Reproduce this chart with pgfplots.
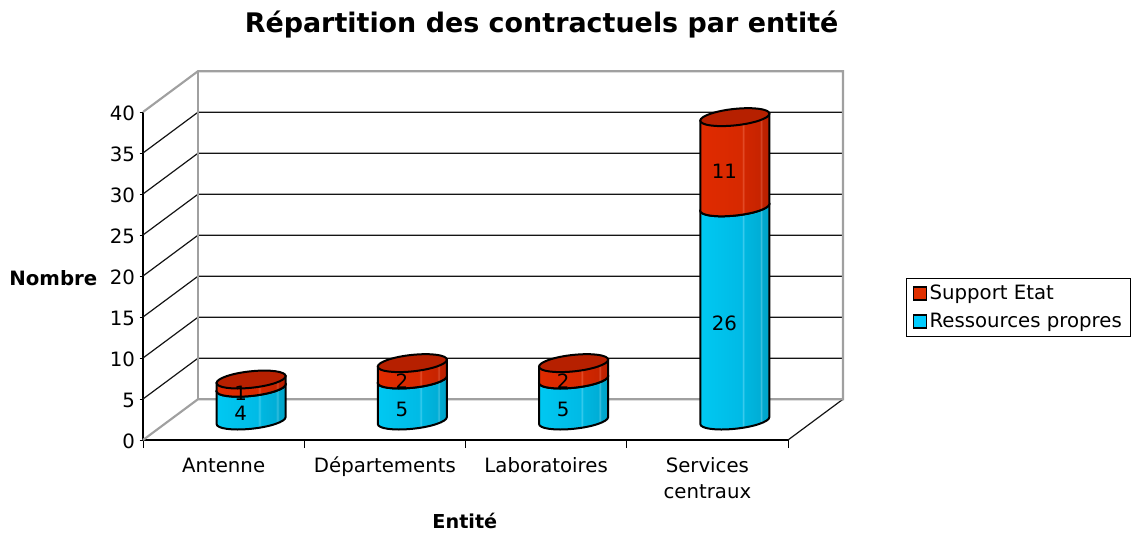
\documentclass[border=0pt]{standalone}
\usepackage{pgfplots}
\usepackage{pgfplotstable}
\usepackage{fontspec}
\pgfplotsset{compat=1.18}
\setmainfont{DejaVu Sans}
\definecolor{gridk}{HTML}{141414}
\definecolor{wallg}{HTML}{A0A0A0}
\definecolor{capred}{HTML}{B62000}
\definecolor{capblue}{HTML}{00B4DC}
\definecolor{legred}{HTML}{E03000}
\definecolor{legblue}{HTML}{00CCFF}
\pgfdeclarehorizontalshading{shblue}{100bp}{
 rgb(0bp)=(0,0.84,1);
 rgb(15bp)=(0,0.82,0.98);
 rgb(16bp)=(0.2,0.86,1);
 rgb(17bp)=(0,0.80,0.96);
 rgb(55bp)=(0,0.73,0.90);
 rgb(56bp)=(0.25,0.80,0.93);
 rgb(57bp)=(0,0.72,0.88);
 rgb(68bp)=(0,0.68,0.84);
 rgb(69bp)=(0.25,0.76,0.88);
 rgb(70bp)=(0,0.66,0.81);
 rgb(80bp)=(0,0.62,0.76);
 rgb(81bp)=(0.22,0.70,0.81);
 rgb(82bp)=(0,0.60,0.73);
 rgb(100bp)=(0,0.50,0.62)}
\pgfdeclarehorizontalshading{shred}{100bp}{
 rgb(0bp)=(0.94,0.21,0);
 rgb(15bp)=(0.91,0.18,0);
 rgb(16bp)=(0.97,0.32,0.12);
 rgb(17bp)=(0.89,0.17,0);
 rgb(55bp)=(0.84,0.16,0);
 rgb(56bp)=(0.90,0.32,0.18);
 rgb(57bp)=(0.82,0.15,0);
 rgb(68bp)=(0.78,0.14,0);
 rgb(69bp)=(0.85,0.30,0.18);
 rgb(70bp)=(0.75,0.13,0);
 rgb(80bp)=(0.70,0.12,0);
 rgb(81bp)=(0.78,0.26,0.15);
 rgb(82bp)=(0.67,0.12,0);
 rgb(100bp)=(0.58,0.10,0)}
% one cylinder segment, origin on the centre of its top ellipse; #1 height in data units
\newcommand{\cylsegment}[3]{%
  \pgfscope
  \pgftransformshift{\pgfpoint{20.6pt}{14.6pt}}%
  \pgfmathsetlengthmacro{\segH}{#1*6.15pt}%
  \def\segpath{%
    \pgfpathmoveto{\pgfpoint{-25.9pt}{-2.6pt}}%
    \pgfpathlineto{\pgfpoint{-25.9pt}{-2.6pt-\segH}}%
    \pgfpatharcaxes{180}{360}{\pgfpoint{25.9pt}{2.6pt}}{\pgfpoint{0pt}{6.2pt}}%
    \pgfpathlineto{\pgfpoint{25.9pt}{2.6pt}}%
    \pgfpathclose}%
  \pgfsetlinewidth{1.5pt}%
  \pgfsetstrokecolor{black}%
  \segpath\pgfshadepath{#2}{0}\pgfusepath{discard}%
  \segpath\pgfusepath{stroke}%
  \pgfsetfillcolor{#3}%
  \pgfpathellipse{\pgfpointorigin}{\pgfpoint{25.9pt}{2.6pt}}{\pgfpoint{0pt}{6.2pt}}%
  \pgfusepath{fill,stroke}%
  \endpgfscope}
\pgfdeclareplotmark{emptymark}{}
\pgfplotstableread{
x    v  total mid
0.5  4  4     2
1.5  5  5     2.5
2.5  5  5     2.5
3.5  26 26    13
}\ressources
\pgfplotstableread{
x    v  total mid
0.5  1  5     4.5
1.5  2  7     6
2.5  2  7     6
3.5  11 37    31.5
}\support
\begin{document}
\begin{tikzpicture}[x=1pt,y=1pt]
\useasboundingbox (0,0) rectangle (850.5,399);
\begin{axis}[
  at={(107.25pt,69pt)}, anchor=south west,
  scale only axis, width=483.75pt, height=246pt,
  xmin=0, xmax=4, ymin=0, ymax=40,
  point meta min=0, point meta max=1000,
  clip=false,
  axis x line=bottom, axis y line=left,
  x axis line style={-, line width=.8pt},
  y axis line style={-, line width=.8pt},
  ytick={0,5,...,40},
  xtick={0.5,1.5,2.5,3.5},
  xticklabels={Antenne\strut,Départements\strut,Laboratoires\strut,{Services\strut\\centraux\strut}},
  x tick style={draw=none},
  xticklabel style={align=center, anchor=north, yshift=-4.5pt},
  yticklabel style={yshift=-1pt},
  extra x ticks={0,1,2,3,4},
  extra x tick labels={},
  extra x tick style={major tick length=6pt, x tick style={draw=black, line width=.7pt}},
  y tick style={line width=.7pt,black},
  tick align=outside, major tick length=2.5pt,
  tick label style={font=\fontsize{14.8}{19.5}\selectfont},
  /pgf/number format/assume math mode=true,
  title={\fontsize{20.2}{24}\selectfont\bfseries Répartition des contractuels par entité},
  every axis title/.style={at={(axis description cs:0.618,1.266)},anchor=center},
  xlabel={\fontsize{14.4}{17}\selectfont\bfseries Entité},
  every axis x label/.style={at={(axis description cs:0.499,-0.247)},anchor=center},
  ylabel={\fontsize{14.8}{17}\selectfont\bfseries Nombre},
  every axis y label/.style={at={(axis description cs:-0.139,0.494)},anchor=center},
  legend style={at={(axis description cs:1.183,0.494)}, anchor=north west,
     draw=black, line width=.7pt, font=\fontsize{14.8}{18}\selectfont,
     inner xsep=4.5pt, inner ysep=3pt, row sep=4.75pt},
  legend cell align=left,
  legend image code/.code={\draw[fill=#1,draw=black,line width=1pt] (0pt,-4.9pt) rectangle (9.8pt,4.9pt);},
]
\addlegendimage{legred}
\addlegendentry{Support Etat}
\addlegendimage{legblue}
\addlegendentry{Ressources propres}
% walls
\pgfplotsinvokeforeach{5,10,15,20,25,30,35}{
  \draw[gridk,line width=.9pt] (axis cs:0,#1) -- ++(41.25pt,30.6pt) -- ++(483.75pt,0pt);
}
\draw[gridk,line width=.9pt] (axis cs:4,0) -- ++(41.25pt,30.6pt);
\draw[wallg,line width=1.6pt] (axis cs:0,0) -- ++(41.25pt,30.6pt) -- ++(483.75pt,0pt) -- ++(0pt,246pt) -- ++(-483.75pt,0pt) -- ++(-41.25pt,-30.6pt);
\draw[wallg,line width=1.6pt] (axis cs:0,0) ++(41.25pt,30.6pt) -- ++(0pt,246pt);
% cylinders
\addplot[forget plot, scatter, only marks, mark=emptymark, point meta=explicit,
  scatter/@pre marker code/.code={\cylsegment{\pgfplotspointmetatransformed}{shblue}{capblue}},
  scatter/@post marker code/.code={}]
  table[x=x,y=total,meta=v] {\ressources};
\addplot[forget plot, scatter, only marks, mark=emptymark, point meta=explicit,
  scatter/@pre marker code/.code={\cylsegment{\pgfplotspointmetatransformed}{shred}{capred}},
  scatter/@post marker code/.code={}]
  table[x=x,y=total,meta=v] {\support};
% data labels
\addplot[forget plot, only marks, mark=none, draw=none,
  point meta=explicit, nodes near coords,
  every node near coord/.style={anchor=center, xshift=12.75pt, yshift=7.5pt, inner sep=0pt,
     font=\fontsize{14.8}{18}\selectfont, /pgf/number format/assume math mode=true, black}]
  table[x=x,y=mid,meta=v] {\ressources};
\addplot[forget plot, only marks, mark=none, draw=none,
  point meta=explicit, nodes near coords,
  every node near coord/.style={anchor=center, xshift=12.75pt, yshift=7.5pt, inner sep=0pt,
     font=\fontsize{14.8}{18}\selectfont, /pgf/number format/assume math mode=true, black}]
  table[x=x,y=mid,meta=v] {\support};
\end{axis}
\end{tikzpicture}
\end{document}
